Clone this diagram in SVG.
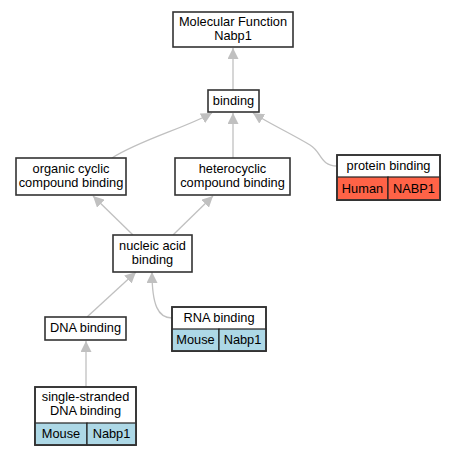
<svg xmlns="http://www.w3.org/2000/svg" width="455" height="456" viewBox="0 0 455 456">
<style>
text{font-family:"Liberation Sans",Arial,sans-serif;font-size:12.8px;fill:#000;text-anchor:middle}
.box{fill:#fff;stroke:#333;stroke-width:1.6}
.hum{fill:#ff6347;stroke:#222;stroke-width:1.2}
.mou{fill:#add8e6;stroke:#222;stroke-width:1.2}
.e{fill:none;stroke:#c0c0c0;stroke-width:1.3}
</style>
<defs>
<marker id="ar" viewBox="0 0 10 10" refX="10" refY="5" markerWidth="11" markerHeight="11" markerUnits="userSpaceOnUse" orient="auto">
<path d="M0,0 L10,5 L0,10 Z" fill="#c0c0c0"/>
</marker>
</defs>
<rect width="455" height="456" fill="#fff"/>
<g id="connectors">
<path class="e" d="M233,90 L233,48" marker-end="url(#ar)"/>
<path class="e" d="M112,158 C140,140 185,128 212,113" marker-end="url(#ar)"/>
<path class="e" d="M233,158 L233,113" marker-end="url(#ar)"/>
<path class="e" d="M337,166 C320,166 322,152 310,145 C290,133 270,124 253,113" marker-end="url(#ar)"/>
<path class="e" d="M133,235 L93,196" marker-end="url(#ar)"/>
<path class="e" d="M173,235 L213,196" marker-end="url(#ar)"/>
<path class="e" d="M87,317 L136,272" marker-end="url(#ar)"/>
<path class="e" d="M172,318 C158,318 152,305 152,272" marker-end="url(#ar)"/>
<path class="e" d="M86,387 L86,341" marker-end="url(#ar)"/>
</g>
<g id="mf">
<rect class="box" x="173" y="12" width="120" height="35"/>
<text x="233" y="26">Molecular Function</text>
<text x="233" y="40">Nabp1</text>
</g>
<g id="binding">
<rect class="box" x="208" y="90" width="51" height="22"/>
<text x="233.5" y="105">binding</text>
</g>
<g id="organic">
<rect class="box" x="16" y="158" width="110" height="37"/>
<text x="71" y="173">organic cyclic</text>
<text x="71" y="187">compound binding</text>
</g>
<g id="hetero">
<rect class="box" x="175" y="158" width="115" height="37"/>
<text x="232.5" y="173">heterocyclic</text>
<text x="232.5" y="187">compound binding</text>
</g>
<g id="protein">
<rect class="box" x="337" y="155" width="103" height="45"/>
<rect class="hum" x="337" y="177" width="51" height="23"/>
<rect class="hum" x="388" y="177" width="52" height="23"/>
<rect x="337" y="155" width="103" height="45" fill="none" stroke="#333" stroke-width="1.6"/>
<text x="388.5" y="170">protein binding</text>
<text x="362.5" y="193">Human</text>
<text x="414" y="193">NABP1</text>
</g>
<g id="nucleic">
<rect class="box" x="113" y="235" width="79" height="37"/>
<text x="152.5" y="250">nucleic acid</text>
<text x="152.5" y="264">binding</text>
</g>
<g id="dna">
<rect class="box" x="45" y="317" width="81" height="23"/>
<text x="85.5" y="332">DNA binding</text>
</g>
<g id="rna">
<rect class="box" x="172" y="307" width="94" height="44"/>
<rect class="mou" x="172" y="329" width="47" height="22"/>
<rect class="mou" x="219" y="329" width="47" height="22"/>
<rect x="172" y="307" width="94" height="44" fill="none" stroke="#333" stroke-width="1.6"/>
<text x="219" y="322">RNA binding</text>
<text x="195.5" y="344">Mouse</text>
<text x="242.5" y="344">Nabp1</text>
</g>
<g id="ssdna">
<rect class="box" x="35" y="387" width="101" height="58"/>
<rect class="mou" x="35" y="423" width="52" height="22"/>
<rect class="mou" x="87" y="423" width="49" height="22"/>
<rect x="35" y="387" width="101" height="58" fill="none" stroke="#333" stroke-width="1.6"/>
<text x="85.5" y="401">single-stranded</text>
<text x="85.5" y="415">DNA binding</text>
<text x="61" y="438">Mouse</text>
<text x="111.5" y="438">Nabp1</text>
</g>
</svg>
